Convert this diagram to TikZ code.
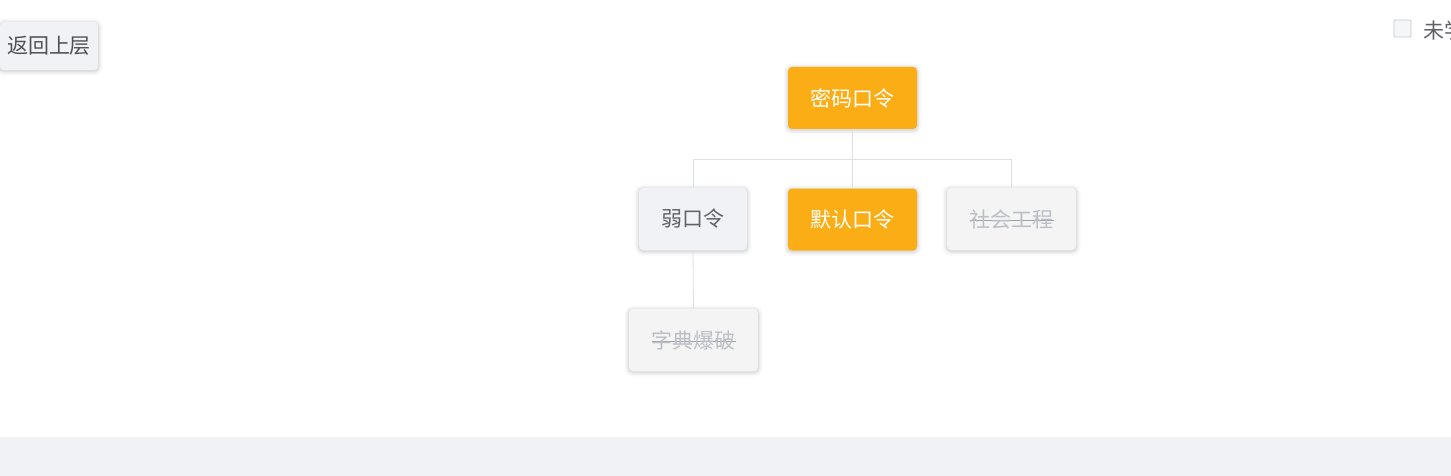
\documentclass[tikz,border=0pt]{standalone}
\usepackage{fontspec}
\setmainfont{Liberation Sans}
\newfontfamily\cjk{Noto Sans CJK SC}
\definecolor{orangec}{HTML}{FAAD14}
\definecolor{lightbg}{HTML}{F0F2F5}
\definecolor{greybg}{HTML}{F4F4F5}
\definecolor{txtgrey}{HTML}{606266}
\definecolor{txtdark}{HTML}{303133}
\definecolor{txtlight}{HTML}{BBBEC4}
\definecolor{linec}{HTML}{DCDFE6}
\definecolor{cbline}{HTML}{C6C9CF}
\newcommand{\strk}[1]{\rlap{\raisebox{0.3em}{\color{txtlight!85!black}\rule{4em}{1pt}}}#1}
\tikzset{
  x=1pt, y=-1pt,
  softshadow/.style={
    preaction={draw=black, draw opacity=0.025, line width=9pt, transform canvas={yshift=-1pt}},
    preaction={draw=black, draw opacity=0.03, line width=6pt, transform canvas={yshift=-1pt}},
    preaction={draw=black, draw opacity=0.035, line width=3.5pt, transform canvas={yshift=-1pt}},
    preaction={draw=black, draw opacity=0.04, line width=1.5pt, transform canvas={yshift=-1pt}}},
  box/.style={rounded corners=4pt, minimum width=129pt, minimum height=62pt, inner sep=0pt,
    font=\cjk\fontsize{21}{24}\selectfont, softshadow},
  actbox/.style={box, fill=orangec, text=white},
  weakbox/.style={box, fill=lightbg, text=txtgrey, minimum width=108pt},
  offbox/.style={box, fill=greybg, text=txtlight},
  conn/.style={draw=linec, line width=0.8pt}
}
\begin{document}
\begin{tikzpicture}
\useasboundingbox (0,0) rectangle (1451,476);
\clip (0,0) rectangle (1451,476);
\fill[white] (0,0) rectangle (1451,476);
\fill[lightbg] (0,437) rectangle (1451,476);
% back button
\node[box, fill=lightbg, text=txtdark!85!white, minimum width=98pt, minimum height=48pt] (back) at (49,46) {返回上层};
% checkbox
\node[draw=cbline, fill=lightbg!70!white, line width=0.9pt, minimum width=17pt, minimum height=17pt, inner sep=0pt, rounded corners=1pt] (cb) at (1402.5,28.5) {};
\node[anchor=west, inner sep=0pt, text=txtgrey, font=\cjk\fontsize{21}{24}\selectfont] (cbt) at (1423,30) {未学};
% tree nodes
\node[actbox] (root) at (852.5,98) {密码口令};
\node[weakbox] (weak) at (693,219) {弱口令};
\node[actbox] (def) at (852.5,219.5) {默认口令};
\node[offbox] (soc) at (1011.5,219) {\strk{社会工程}};
\node[offbox] (dict) at (693.5,340) {\strk{字典爆破}};
\coordinate (mid) at (852.5,159);
% connectors
\draw[conn] (root.south) -- (mid);
\draw[conn] (mid) -| (weak.north);
\draw[conn] (mid) -- (def.north);
\draw[conn] (mid) -| (soc.north);
\draw[conn] (weak.south) -- (dict.north);
\end{tikzpicture}
\end{document}
